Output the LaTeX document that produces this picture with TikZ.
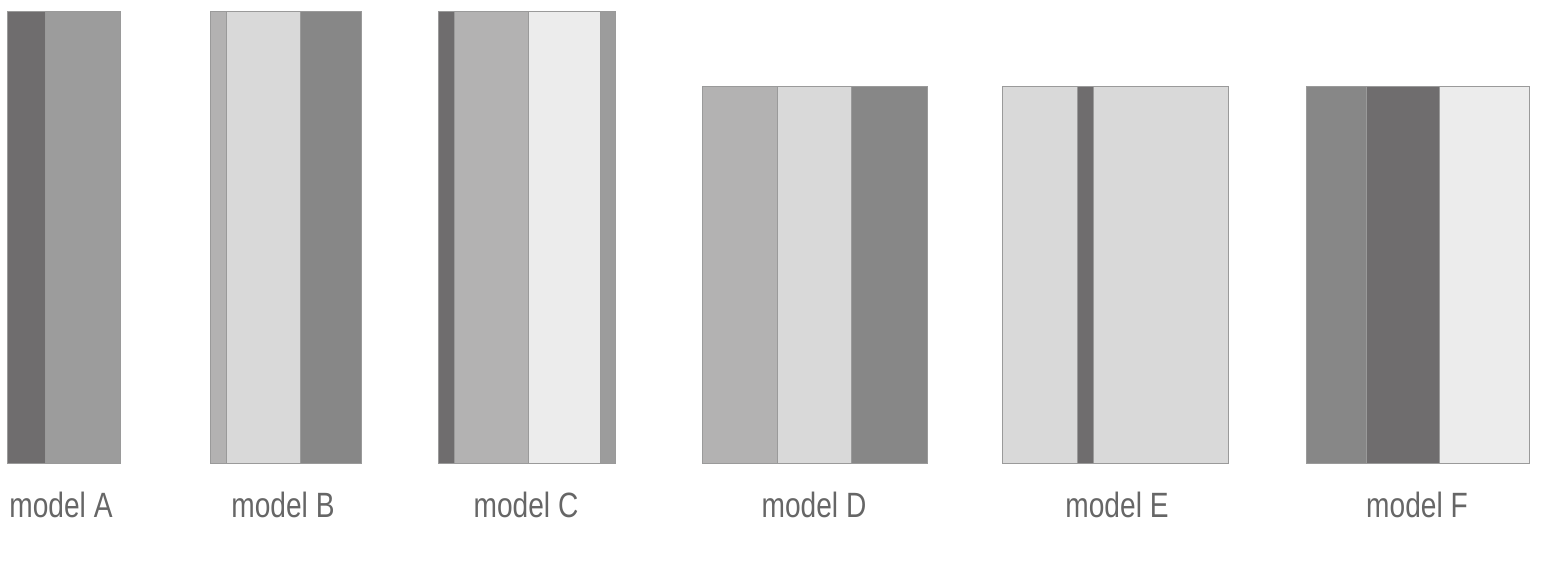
\documentclass[tikz,border=0pt]{standalone}
\usepackage{tikz}
\usepackage{xcolor}
\usepackage{fontspec}
\setmainfont{Liberation Sans}[FakeStretch=0.8]
\usetikzlibrary{
    positioning,
    calc
}
\definecolor{CinzaEscuro}{HTML}{6F6D6E}
\definecolor{CinzaForte}{HTML}{878787}
\definecolor{CinzaMedio}{HTML}{9C9C9C}
\definecolor{CinzaPrata}{HTML}{B3B2B2}
\definecolor{CinzaClaro}{HTML}{D9D9D9}
\definecolor{CinzaPalido}{HTML}{ECECEC}
\definecolor{CinzaBorda}{HTML}{9A9A9A}
\definecolor{CinzaTexto}{HTML}{666666}

\tikzset{
    faixa/.style={draw=CinzaBorda, line width=0.5pt},
    rotulo/.style={text=CinzaTexto, inner sep=0pt,
        font=\fontsize{20}{20}\selectfont}
}

\begin{document}
\begin{tikzpicture}[x=0.02cm, y=-0.02cm]
    \useasboundingbox (0,0) rectangle (1559,567);

    % model A
    \path[faixa, fill=CinzaEscuro] (7,11) rectangle (45,463);
    \path[faixa, fill=CinzaMedio] (45,11) rectangle (120,463);
    \node[rotulo] (labA) at (61,505) {model A};

    % model B
    \path[faixa, fill=CinzaPrata] (210,11) rectangle (226,463);
    \path[faixa, fill=CinzaClaro] (226,11) rectangle (300,463);
    \path[faixa, fill=CinzaForte] (300,11) rectangle (361,463);
    \node[rotulo] (labB) at (283,505) {model B};

    % model C
    \path[faixa, fill=CinzaEscuro] (438,11) rectangle (454,463);
    \path[faixa, fill=CinzaPrata] (454,11) rectangle (528,463);
    \path[faixa, fill=CinzaPalido] (528,11) rectangle (600,463);
    \path[faixa, fill=CinzaMedio] (600,11) rectangle (615,463);
    \node[rotulo] (labC) at (526,505) {model C};

    % model D
    \path[faixa, fill=CinzaPrata] (702,86) rectangle (777,463);
    \path[faixa, fill=CinzaClaro] (777,86) rectangle (851,463);
    \path[faixa, fill=CinzaForte] (851,86) rectangle (927,463);
    \node[rotulo] (labD) at (814,505) {model D};

    % model E
    \path[faixa, fill=CinzaClaro] (1002,86) rectangle (1077,463);
    \path[faixa, fill=CinzaEscuro] (1077,86) rectangle (1093,463);
    \path[faixa, fill=CinzaClaro] (1093,86) rectangle (1228,463);
    \node[rotulo] (labE) at (1117,505) {model E};

    % model F
    \path[faixa, fill=CinzaForte] (1306,86) rectangle (1366,463);
    \path[faixa, fill=CinzaEscuro] (1366,86) rectangle (1439,463);
    \path[faixa, fill=CinzaPalido] (1439,86) rectangle (1529,463);
    \node[rotulo] (labF) at (1417,505) {model F};
\end{tikzpicture}
\end{document}
